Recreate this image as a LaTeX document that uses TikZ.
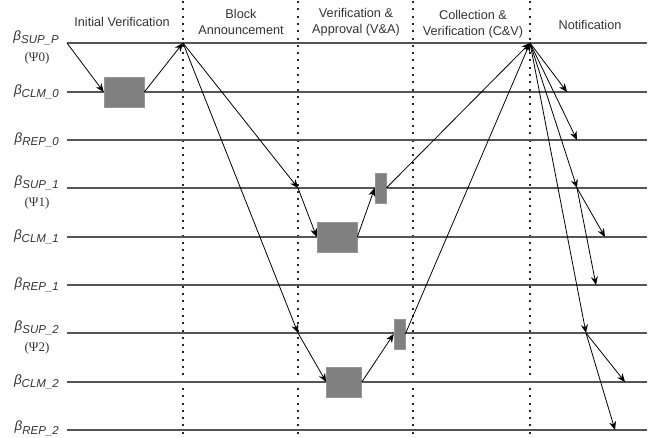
\documentclass[tikz,border=0pt]{standalone}
\usepackage{fontspec}
\setmainfont{Liberation Sans}
\newfontfamily\psifont{Liberation Serif}
\usetikzlibrary{arrows.meta}
\definecolor{txt}{HTML}{333333}
\definecolor{lane}{HTML}{555555}
\definecolor{boxfill}{HTML}{808080}
\definecolor{boxline}{HTML}{969696}
\tikzset{
  lane/.style={draw=lane, line width=1.3pt},
  sep/.style={draw=black!85, line width=2pt, dash pattern=on 2pt off 5.3pt},
  head/.style={text=txt, font=\fontsize{12.7}{16}\selectfont, align=center, inner sep=0pt},
  lbl/.style={text=txt, anchor=east, inner sep=0pt, align=center},
  proc/.style={fill=boxfill, draw=boxline, line width=0.6pt, inner sep=0pt, minimum height=30pt},
  msg/.style={draw=black, line width=0.8pt, -{Stealth[length=8.5pt,width=7pt]}},
}
\newcommand{\blbl}[1]{{\fontsize{13.5}{14}\selectfont\itshape β}{\fontsize{11.5}{12}\selectfont\itshape\raisebox{-3.5pt}{#1}}}
\newcommand{\psil}[1]{{\psifont\fontsize{13}{14}\selectfont (Ψ#1)}}
\begin{document}
\begin{tikzpicture}[x=1pt,y=-1pt]
\useasboundingbox (0,0) rectangle (652,437);

% phase separators
\foreach \xx in {183,298,413,530}
  \draw[sep] (\xx,1) -- (\xx,437);

% node time lines
\foreach \yy in {43,92,140,188,237,285,333,382,430}
  \draw[lane] (67,\yy) -- (647,\yy);

% phase titles
\node[head] (h1) at (122,22) {Initial Verification};
\node[head] (h2) at (241,22) {Block\\Announcement};
\node[head] (h3) at (356,22) {Verification \&\\Approval (V\&A)};
\node[head] (h4) at (473,24) {Collection \&\\Verification (C\&V)};
\node[head] (h5) at (590,25) {Notification};

% participant labels
\node[lbl] (l0) at (59,38) {\blbl{SUP\_P}};
\node[txt, inner sep=0pt] (k0) at (37,58) {\psil{0}};
\node[lbl] (l1) at (59,92) {\blbl{CLM\_0}};
\node[lbl] (l2) at (59,140) {\blbl{REP\_0}};
\node[lbl] (l3) at (59,183) {\blbl{SUP\_1}};
\node[txt, inner sep=0pt] (k1) at (37,203) {\psil{1}};
\node[lbl] (l4) at (59,237) {\blbl{CLM\_1}};
\node[lbl] (l5) at (59,285) {\blbl{REP\_1}};
\node[lbl] (l6) at (59,328) {\blbl{SUP\_2}};
\node[txt, inner sep=0pt] (k2) at (37,348) {\psil{2}};
\node[lbl] (l7) at (59,382) {\blbl{CLM\_2}};
\node[lbl] (l8) at (59,428.5) {\blbl{REP\_2}};

% processing boxes
\node[proc, minimum width=40pt] (b0) at (124,92) {};
\node[proc, minimum width=40pt] (c1) at (337,237) {};
\node[proc, minimum width=11pt] (v1) at (380.5,188) {};
\node[proc, minimum width=35pt] (c2) at (344,382) {};
\node[proc, minimum width=11pt] (v2) at (399.5,334) {};

% event points
\coordinate (s0) at (67,43);
\coordinate (p0) at (183,43);
\coordinate (q1) at (298,188);
\coordinate (q2) at (298,333);
\coordinate (r) at (530,43);
\coordinate (n1) at (567,92);
\coordinate (n2) at (577,140);
\coordinate (n3) at (577,188);
\coordinate (n4) at (605,237);
\coordinate (n5) at (596,285);
\coordinate (n6) at (586,333);
\coordinate (n7) at (625,382);
\coordinate (n8) at (615,430);

% messages
\draw[msg] (s0) -- (b0.west);
\draw[msg] (b0.east) -- (p0);
\draw[msg] (p0) -- (q1);
\draw[msg] (p0) -- (q2);
\draw[msg] (q1) -- (c1.west);
\draw[msg] (c1.east) -- (v1.west);
\draw[msg] (v1.east) -- (r);
\draw[msg] (q2) -- (c2.west);
\draw[msg] (c2.east) -- (v2.west);
\draw[msg] (v2.east) -- (r);
\draw[msg] (r) -- (n1);
\draw[msg] (r) -- (n2);
\draw[msg] (r) -- (n3);
\draw[msg] (r) -- (n6);
\draw[msg] (n3) -- (n4);
\draw[msg] (n3) -- (n5);
\draw[msg] (n6) -- (n7);
\draw[msg] (n6) -- (n8);
\end{tikzpicture}
\end{document}
